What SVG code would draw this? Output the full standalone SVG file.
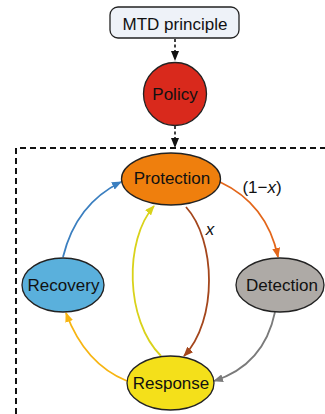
<svg xmlns="http://www.w3.org/2000/svg" width="325" height="414" viewBox="0 0 325 414">
<style>
text{font-family:"Liberation Sans",Arial,sans-serif;font-size:17px;fill:#111;text-anchor:middle}
.n{stroke:#222;stroke-width:1.3}
.c{fill:none;stroke-width:1.8}
.d{fill:none;stroke:#111;stroke-width:1.6;stroke-dasharray:3 2.5}
</style>
<defs>
<marker id="mk" viewBox="0 0 10 8" refX="9" refY="4" markerWidth="10" markerHeight="8" markerUnits="userSpaceOnUse" orient="auto"><path d="M0,0L10,4L0,8z" fill="#111"/></marker>
<marker id="mb" viewBox="0 0 10 8" refX="9" refY="4" markerWidth="10" markerHeight="8" markerUnits="userSpaceOnUse" orient="auto"><path d="M0,0L10,4L0,8z" fill="#3b7fc0"/></marker>
<marker id="mo" viewBox="0 0 10 8" refX="9" refY="4" markerWidth="10" markerHeight="8" markerUnits="userSpaceOnUse" orient="auto"><path d="M0,0L10,4L0,8z" fill="#e3661a"/></marker>
<marker id="mr" viewBox="0 0 10 8" refX="9" refY="4" markerWidth="10" markerHeight="8" markerUnits="userSpaceOnUse" orient="auto"><path d="M0,0L10,4L0,8z" fill="#a4461c"/></marker>
<marker id="my" viewBox="0 0 10 8" refX="9" refY="4" markerWidth="10" markerHeight="8" markerUnits="userSpaceOnUse" orient="auto"><path d="M0,0L10,4L0,8z" fill="#d9d21a"/></marker>
<marker id="mg" viewBox="0 0 10 8" refX="9" refY="4" markerWidth="10" markerHeight="8" markerUnits="userSpaceOnUse" orient="auto"><path d="M0,0L10,4L0,8z" fill="#f7b512"/></marker>
<marker id="mz" viewBox="0 0 10 8" refX="9" refY="4" markerWidth="10" markerHeight="8" markerUnits="userSpaceOnUse" orient="auto"><path d="M0,0L10,4L0,8z" fill="#7a7a7a"/></marker>
</defs>
<path d="M16,414V148H325" fill="none" stroke="#111" stroke-width="2" stroke-dasharray="6 4"/>
<g id="connectors">
<path class="d" d="M175,39V60" marker-end="url(#mk)"/>
<path class="d" d="M175,126V147" marker-end="url(#mk)"/>
<path class="c" stroke="#3b7fc0" d="M63,257Q76,204 121,182" marker-end="url(#mb)"/>
<path class="c" stroke="#e3661a" d="M220,182Q267,204 278,257" marker-end="url(#mo)"/>
<path class="c" stroke="#a4461c" d="M186,207C216,240 218,320 184,356" marker-end="url(#mr)"/>
<path class="c" stroke="#d9d21a" d="M161,356C125,320 124,240 154,206" marker-end="url(#my)"/>
<path class="c" stroke="#f7b512" d="M127,381Q85,364 66,313" marker-end="url(#mg)"/>
<path class="c" stroke="#7a7a7a" d="M275,312Q264,365 214,381" marker-end="url(#mz)"/>
<text x="262" y="193">(1−<tspan font-style="italic">x</tspan>)</text>
<text x="210" y="235" font-style="italic">x</text>
</g>
<g id="mtd"><rect class="n" x="110" y="7" width="129" height="31" rx="8" fill="#eef2f8"/><text x="175" y="29.5">MTD principle</text></g>
<g id="policy"><circle class="n" cx="175" cy="94" r="31.5" fill="#d9291c"/><text x="175" y="100">Policy</text></g>
<g id="protection"><ellipse class="n" cx="171" cy="179" rx="49.5" ry="26" fill="#ef7f0d"/><text x="172" y="184">Protection</text></g>
<g id="recovery"><ellipse class="n" cx="63" cy="285" rx="41" ry="27" fill="#5ab0dc"/><text x="63.5" y="291">Recovery</text></g>
<g id="detection"><ellipse class="n" cx="280" cy="285" rx="44" ry="27" fill="#aeaaa6"/><text x="282" y="291">Detection</text></g>
<g id="response"><ellipse class="n" cx="170.5" cy="383" rx="43.5" ry="27" fill="#f4e01a"/><text x="171" y="389">Response</text></g>
</svg>
